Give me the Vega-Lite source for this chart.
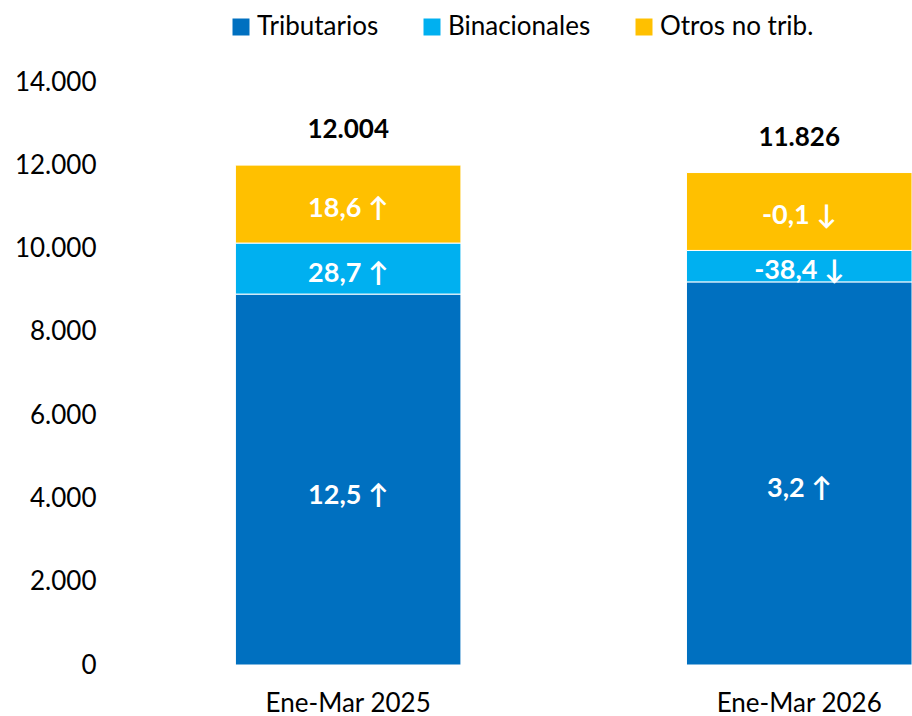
{
  "$schema": "https://vega.github.io/schema/vega-lite/v6.json",
  "autosize": {"type": "none"},
  "padding": {"left": 110, "top": 82, "right": 0, "bottom": 51},
  "width": 802,
  "height": 583,
  "background": "white",
  "config": {
    "view": {"stroke": null},
    "font": "Lato",
    "locale": {"number": {"decimal": ",", "thousands": ".", "grouping": [3], "currency": ["", " €"]}}
  },
  "data": {
    "values": [
      {"periodo": "Ene-Mar 2025", "serie": "Tributarios", "orden": 1, "valor": 8907, "etiqueta": "12,5 ↑"},
      {"periodo": "Ene-Mar 2025", "serie": "Binacionales", "orden": 2, "valor": 1225, "etiqueta": "28,7 ↑"},
      {"periodo": "Ene-Mar 2025", "serie": "Otros no trib.", "orden": 3, "valor": 1872, "etiqueta": "18,6 ↑"},
      {"periodo": "Ene-Mar 2026", "serie": "Tributarios", "orden": 1, "valor": 9200, "etiqueta": "3,2 ↑"},
      {"periodo": "Ene-Mar 2026", "serie": "Binacionales", "orden": 2, "valor": 755, "etiqueta": "-38,4 ↓"},
      {"periodo": "Ene-Mar 2026", "serie": "Otros no trib.", "orden": 3, "valor": 1871, "etiqueta": "-0,1 ↓"}
    ]
  },
  "transform": [
    {"stack": "valor", "groupby": ["periodo"], "sort": [{"field": "orden", "order": "ascending"}], "as": ["v0", "v1"]},
    {"calculate": "(datum.v0 + datum.v1) / 2", "as": "mid"}
  ],
  "encoding": {
    "x": {
      "field": "periodo",
      "type": "nominal",
      "scale": {"paddingInner": 0.5, "paddingOuter": 0.139, "align": 1},
      "axis": {
        "title": null,
        "labelAngle": 0,
        "domain": false,
        "ticks": false,
        "labelFontSize": 26,
        "labelColor": "#000000",
        "labelPadding": 25,
        "labelFont": "Lato"
      }
    }
  },
  "layer": [
    {
      "mark": {"type": "bar", "stroke": "white", "strokeWidth": 1},
      "encoding": {
        "y": {
          "field": "v1",
          "type": "quantitative",
          "scale": {"domain": [0, 14000], "nice": false},
          "axis": {
            "title": null,
            "values": [0, 2000, 4000, 6000, 8000, 10000, 12000, 14000],
            "format": ",.0f",
            "grid": false,
            "domain": false,
            "ticks": false,
            "labelFontSize": 26,
            "labelColor": "#000000",
            "labelPadding": 14,
            "labelFont": "Lato"
          }
        },
        "y2": {"field": "v0"},
        "color": {
          "field": "serie",
          "type": "nominal",
          "sort": ["Tributarios", "Binacionales", "Otros no trib."],
          "scale": {
            "domain": ["Tributarios", "Binacionales", "Otros no trib."],
            "range": ["#0070C0", "#00B0F0", "#FFC000"]
          },
          "legend": {
            "title": null,
            "orient": "none",
            "direction": "horizontal",
            "legendX": 118,
            "legendY": -68,
            "symbolType": "square",
            "symbolSize": 289,
            "symbolStrokeWidth": 0,
            "symbolOpacity": 1,
            "labelFontSize": 26,
            "labelFont": "Lato",
            "labelColor": "#000000",
            "labelOffset": 3,
            "columnPadding": 40
          }
        }
      }
    },
    {
      "transform": [{"filter": "datum.serie === 'Tributarios'"}],
      "mark": {"type": "text", "color": "white", "fontWeight": "bold", "fontSize": 27, "font": "Lato", "baseline": "middle", "dy": 16},
      "encoding": {
        "y": {"field": "mid", "type": "quantitative"},
        "text": {"field": "etiqueta"}
      }
    },
    {
      "transform": [{"filter": "datum.serie !== 'Tributarios'"}],
      "mark": {"type": "text", "color": "white", "fontWeight": "bold", "fontSize": 27, "font": "Lato", "baseline": "middle", "dy": 5},
      "encoding": {
        "y": {"field": "mid", "type": "quantitative"},
        "text": {"field": "etiqueta"}
      }
    },
    {
      "transform": [{"aggregate": [{"op": "sum", "field": "valor", "as": "total"}], "groupby": ["periodo"]}],
      "mark": {"type": "text", "color": "#000000", "fontWeight": "bold", "fontSize": 26, "font": "Lato", "baseline": "middle", "dy": -35},
      "encoding": {
        "y": {"field": "total", "type": "quantitative"},
        "text": {"field": "total", "type": "quantitative", "format": ",.0f"}
      }
    }
  ]
}
